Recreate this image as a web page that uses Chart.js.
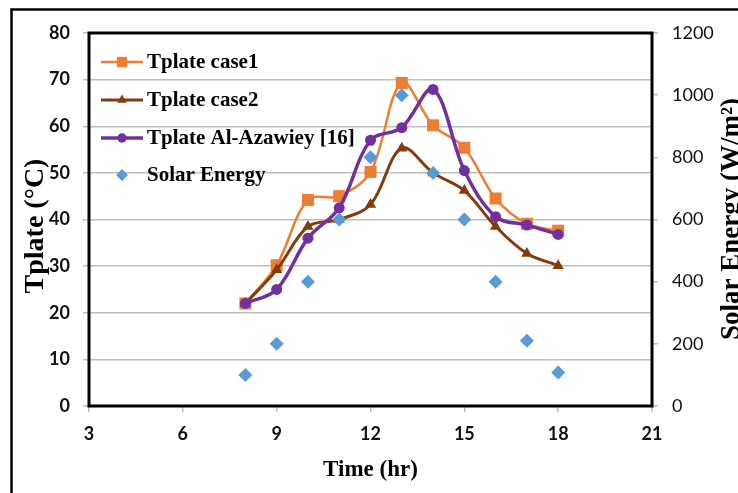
<!DOCTYPE html>
<html>
<head>
<meta charset="utf-8">
<script src="https://cdn.jsdelivr.net/npm/chart.js@4/dist/chart.umd.min.js"></script>
<style>
  html, body { margin: 0; padding: 0; background: #fff; overflow: hidden; }
  #wrap { position: relative; width: 738px; height: 493px; }
</style>
</head>
<body>
<div id="wrap"><canvas id="chart" width="738" height="493"></canvas></div>
<script>
// Chart data
const hours = [8, 9, 10, 11, 12, 13, 14, 15, 16, 17, 18];
const tplateCase1 = [22, 30.2, 44.2, 45, 50.2, 69.3, 60.2, 55.4, 44.5, 39.1, 37.6];
const tplateCase2 = [22, 29.2, 38.5, 40, 43.2, 55.3, 50, 46.2, 38.5, 32.7, 30.1];
const tplateAzawiey = [22, 25, 36, 42.5, 57, 59.7, 67.9, 50.5, 40.6, 38.8, 36.8];
const solarEnergy = [100, 200, 400, 600, 800, 1000, 750, 600, 400, 210, 108];

const xTicks = [3, 6, 9, 12, 15, 18, 21];
const leftTicks = [0, 10, 20, 30, 40, 50, 60, 70, 80];
const rightTicks = [0, 200, 400, 600, 800, 1000, 1200];

const seriesNames = ['Tplate case1', 'Tplate case2', 'Tplate Al-Azawiey [16]', 'Solar Energy'];
const xTitle = 'Time (hr)';
const leftTitle = 'Tplate (°C)';
const rightTitle = 'Solar Energy (W/m²)';

const ORANGE = '#ED7D31';
const BROWN = '#843C0C';
const PURPLE = '#7030A0';
const BLUE = '#5B9BD5';
const GRID = '#bfbfbf';

const pairs = (ys) => hours.map((h, i) => ({ x: h, y: ys[i] }));

const datasets = [
  {
    label: seriesNames[0], data: pairs(tplateCase1), yAxisID: 'y',
    borderColor: ORANGE, backgroundColor: ORANGE, borderWidth: 2.5,
    pointStyle: 'rect', pointRadius: 8.5, pointBackgroundColor: ORANGE, pointBorderWidth: 0,
    tension: 0.35, order: 4,
  },
  {
    label: seriesNames[1], data: pairs(tplateCase2), yAxisID: 'y',
    borderColor: BROWN, backgroundColor: BROWN, borderWidth: 3,
    pointStyle: 'triangle', pointRadius: 6.5, pointBackgroundColor: BROWN, pointBorderWidth: 0,
    tension: 0.35, order: 3,
  },
  {
    label: seriesNames[2], data: pairs(tplateAzawiey), yAxisID: 'y',
    borderColor: PURPLE, backgroundColor: PURPLE, borderWidth: 3.5,
    pointStyle: 'circle', pointRadius: 5.5, pointBackgroundColor: PURPLE, pointBorderWidth: 0,
    tension: 0.35, order: 2,
  },
  {
    label: seriesNames[3], data: pairs(solarEnergy), yAxisID: 'y1',
    borderColor: BLUE, backgroundColor: BLUE, showLine: false,
    pointStyle: 'rectRot', pointRadius: 7, pointBackgroundColor: BLUE, pointBorderWidth: 0,
    order: 1,
  },
];

// legend inside the plot, frame, plot border and rotated axis titles
const decorations = {
  id: 'decorations',
  beforeDraw(chart) {
    const ctx = chart.ctx;
    ctx.save();
    ctx.strokeStyle = '#000';
    ctx.lineWidth = 2.5;
    ctx.strokeRect(11.5, 9.5, 900, 900);
    ctx.restore();
  },
  afterDraw(chart) {
    const ctx = chart.ctx;
    const { left, top, right, bottom } = chart.chartArea;
    ctx.save();
    ctx.strokeStyle = '#000';
    ctx.lineWidth = 3;
    ctx.strokeRect(left, top, right - left, bottom - top);

    // legend
    const rows = [62, 100, 138, 175];
    datasets.forEach((ds, i) => {
      const y = rows[i];
      if (ds.showLine !== false) {
        ctx.strokeStyle = ds.borderColor;
        ctx.lineWidth = ds.borderWidth;
        ctx.beginPath();
        ctx.moveTo(101, y);
        ctx.lineTo(143, y);
        ctx.stroke();
      }
      ctx.fillStyle = ds.pointBackgroundColor;
      Chart.helpers.drawPoint(ctx, { pointStyle: ds.pointStyle, radius: ds.pointRadius * 0.85, borderWidth: 0 }, 122, y);
      ctx.fillStyle = '#000';
      ctx.font = 'bold 21px "Liberation Serif"';
      ctx.textBaseline = 'middle';
      ctx.textAlign = 'left';
      ctx.fillText(ds.label, 147, y + 1);
    });

    // y titles, both reading bottom to top
    ctx.fillStyle = '#000';
    ctx.textAlign = 'center';
    ctx.textBaseline = 'alphabetic';
    ctx.font = 'bold 28px "Liberation Serif"';
    ctx.translate(43, 226);
    ctx.rotate(-Math.PI / 2);
    ctx.fillText(leftTitle, 0, 0);
    ctx.setTransform(1, 0, 0, 1, 0, 0);
    ctx.font = 'bold 27px "Liberation Serif"';
    ctx.translate(739, 219);
    ctx.rotate(-Math.PI / 2);
    ctx.fillText(rightTitle, 0, 0);
    ctx.restore();
  },
};

const plain = (v) => String(v);

new Chart(document.getElementById('chart'), {
  type: 'line',
  data: { datasets },
  plugins: [decorations],
  options: {
    responsive: false,
    animation: false,
    layout: { padding: { top: 33, left: 0, right: 0, bottom: 0 } },
    plugins: { legend: { display: false }, tooltip: { enabled: false } },
    scales: {
      x: {
        type: 'linear', min: 3, max: 21,
        afterBuildTicks(scale) { scale.ticks = xTicks.map((v) => ({ value: v })); },
        afterFit(scale) { scale.height = 87; },
        grid: { display: true, drawOnChartArea: false, drawTicks: true, tickLength: 6, color: GRID, lineWidth: 1.5 },
        border: { display: false },
        ticks: { color: '#111', padding: 11, callback: plain, font: { family: 'Lato', weight: 'bold', size: 18 } },
        title: {
          display: true, text: xTitle, color: '#000',
          font: { family: 'Liberation Serif', weight: 'bold', size: 23 },
          padding: { top: 0, bottom: 9 },
        },
      },
      y: {
        position: 'left', min: 0, max: 80,
        afterBuildTicks(scale) { scale.ticks = leftTicks.map((v) => ({ value: v })); },
        afterFit(scale) { scale.width = 89; },
        grid: { color: GRID, lineWidth: 1.5, tickLength: 6 },
        border: { display: false },
        ticks: { color: '#111', padding: 13, callback: plain, font: { family: 'Lato', weight: 'bold', size: 18 } },
      },
      y1: {
        position: 'right', min: 0, max: 1200,
        afterBuildTicks(scale) { scale.ticks = rightTicks.map((v) => ({ value: v })); },
        afterFit(scale) { scale.width = 86; },
        grid: { drawOnChartArea: false, color: GRID, lineWidth: 1.5, tickLength: 6 },
        border: { display: false },
        ticks: { color: '#111', padding: 14, callback: plain, font: { family: 'Lato', size: 18 } },
      },
    },
  },
});
</script>
</body>
</html>
